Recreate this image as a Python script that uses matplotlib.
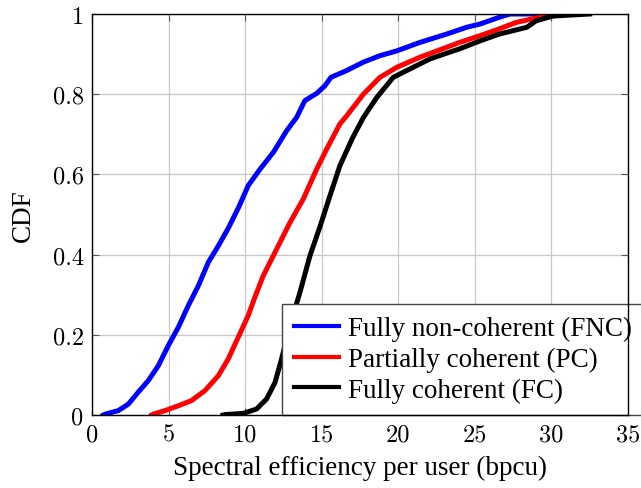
import matplotlib
matplotlib.use("Agg")
import matplotlib.pyplot as plt

plt.rcParams['font.family'] = ['Liberation Serif', 'DejaVu Serif']

fnc_x = [0.74, 0.85, 1.72, 2.37, 3.02, 3.68, 4.33, 4.98, 5.64, 6.29, 6.94, 7.6,
         8.25, 8.9, 9.6, 10.2, 10.97, 11.84, 12.71, 13.36, 13.9, 14.67, 15.21,
         15.6, 16.63, 17.72, 18.8, 19.9, 21.4, 23.16, 24.47, 25.34, 26.6, 27.3, 29.0]
fnc_y = [0.0, 0.002, 0.011, 0.027, 0.057, 0.086, 0.123, 0.173, 0.219, 0.273, 0.322, 0.381,
         0.422, 0.466, 0.52, 0.572, 0.613, 0.655, 0.709, 0.742, 0.784, 0.802, 0.821,
         0.842, 0.859, 0.88, 0.896, 0.908, 0.929, 0.95, 0.967, 0.975, 0.992, 1.0, 1.0]

pc_x = [3.9, 4.0, 4.77, 5.64, 6.5, 7.38, 8.25, 8.9, 9.55, 10.2, 10.6, 11.18,
        12.06, 12.9, 13.8, 14.67, 15.32, 16.19, 16.63, 17.72, 18.8, 19.9, 21.4,
        23.16, 24.0, 25.34, 26.6, 27.7, 29.0, 30.5, 31.2]
pc_y = [0.0, 0.002, 0.011, 0.023, 0.036, 0.061, 0.098, 0.14, 0.194, 0.248, 0.29, 0.347,
        0.414, 0.478, 0.539, 0.613, 0.663, 0.726, 0.746, 0.8, 0.842, 0.867, 0.892,
        0.917, 0.929, 0.946, 0.963, 0.979, 0.99, 0.997, 1.0]

fc_x = [8.56, 8.68, 9.88, 10.75, 11.4, 11.95, 12.38, 12.93, 13.58, 14.23, 14.89,
        15.54, 16.19, 17.0, 17.72, 18.6, 19.67, 20.55, 22.07, 23.6, 24.0, 25.34,
        26.6, 28.4, 29.0, 30.1, 32.5]
fc_y = [0.0, 0.001, 0.004, 0.015, 0.04, 0.081, 0.14, 0.223, 0.306, 0.397, 0.47,
        0.547, 0.622, 0.69, 0.742, 0.792, 0.842, 0.859, 0.888, 0.908, 0.913, 0.933,
        0.95, 0.967, 0.983, 0.995, 1.0]

labels = ['Fully non-coherent (FNC)', 'Partially coherent (PC)', 'Fully coherent (FC)']

fig = plt.figure(figsize=(6.41, 4.89), dpi=100)
ax = fig.add_axes([92/641, 1 - 416/489, 536/641, 401/489])

ax.plot(fnc_x, fnc_y, color='blue', lw=3.6, label=labels[0])
ax.plot(pc_x, pc_y, color='red', lw=3.6, label=labels[1])
ax.plot(fc_x, fc_y, color='black', lw=3.6, label=labels[2])

ax.set_xlim(0, 35)
ax.set_ylim(0, 1)
ax.set_xticks(range(0, 36, 5))
ax.set_yticks([0, 0.2, 0.4, 0.6, 0.8, 1])
ax.set_yticklabels(['0', '0.2', '0.4', '0.6', '0.8', '1'])
for t in ax.get_xticklabels() + ax.get_yticklabels():
    t.set_fontfamily('cmr10')
ax.grid(True, color='#c8c8c8', lw=0.9)
ax.set_axisbelow(True)
ax.tick_params(direction='in', top=True, right=True, labelsize=17.5,
               color='#555555', length=5, pad=6)
for s in ax.spines.values():
    s.set_linewidth(1.0)

ax.set_xlabel('Spectral efficiency per user (bpcu)', fontsize=19.5, labelpad=7)
ax.set_ylabel('CDF', fontsize=19.5, labelpad=12)

leg = ax.legend(loc='lower left', bbox_to_anchor=((282 - 92) / 536, 0.0), fontsize=19.5,
                fancybox=False, framealpha=1, edgecolor='#444444',
                borderaxespad=0, handlelength=1.67, labelspacing=0.21,
                borderpad=0.45, handletextpad=0.3)
leg.get_frame().set_linewidth(1.0)
leg.set_zorder(2.4)
for h in leg.get_lines():
    h.set_linewidth(3.0)

fig.savefig('out.png', dpi=100)
